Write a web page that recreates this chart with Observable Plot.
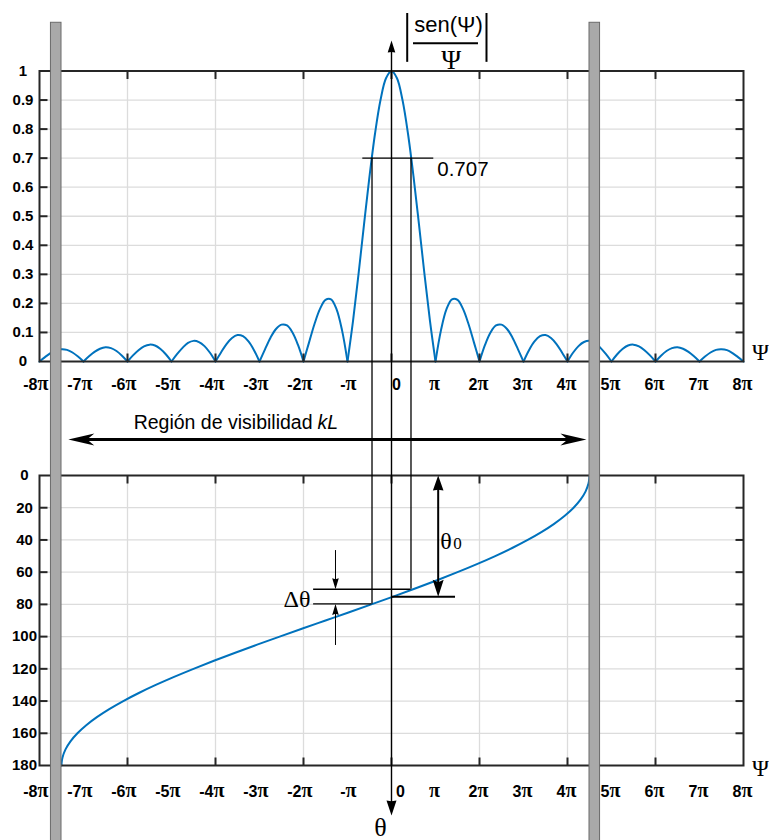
<!DOCTYPE html>
<html lang="es">
<head>
<meta charset="utf-8">
<title>Región de visibilidad</title>
<script src="https://cdn.jsdelivr.net/npm/d3@7"></script>
<script src="https://cdn.jsdelivr.net/npm/@observablehq/plot@0.6"></script>
<style>
  html, body { margin: 0; padding: 0; background: #ffffff; }
  #chart { position: relative; width: 769px; height: 840px; overflow: hidden; background: #fff; }
  #chart > svg { position: absolute; left: 0; top: 0; }
</style>
</head>
<body>
<div id="chart"></div>
<script>
// ---------------- DATA ----------------
// Top panel: |sen(Ψ)/Ψ| against Ψ (in multiples of π)
const psiTop = [
  -8,-7.875,-7.75,-7.625,-7.5,-7.375,-7.25,-7.125,
  -7,-6.875,-6.75,-6.625,-6.5,-6.375,-6.25,-6.125,
  -6,-5.875,-5.75,-5.625,-5.5,-5.375,-5.25,-5.125,
  -5,-4.875,-4.75,-4.625,-4.5,-4.375,-4.25,-4.125,
  -4,-3.875,-3.75,-3.625,-3.5,-3.375,-3.25,-3.125,
  -3,-2.875,-2.75,-2.625,-2.5,-2.375,-2.25,-2.125,
  -2,-1.875,-1.75,-1.625,-1.5,-1.375,-1.25,-1.125,
  -1,-0.875,-0.75,-0.625,-0.5,-0.375,-0.25,-0.125,
  0,
  0.125,0.25,0.375,0.5,0.625,0.75,0.875,1,
  1.125,1.25,1.375,1.5,1.625,1.75,1.875,2,
  2.125,2.25,2.375,2.5,2.625,2.75,2.875,3,
  3.125,3.25,3.375,3.5,3.625,3.75,3.875,4,
  4.125,4.25,4.375,4.5,4.625,4.75,4.875,5,
  5.125,5.25,5.375,5.5,5.625,5.75,5.875,6,
  6.125,6.25,6.375,6.5,6.625,6.75,6.875,7,
  7.125,7.25,7.375,7.5,7.625,7.75,7.875,8
];
const ampTop = [
  0,.015,.029,.039,.042,.040,.031,.017,
  0,.018,.033,.044,.049,.046,.036,.020,
  0,.021,.039,.052,.058,.055,.043,.024,
  0,.025,.047,.064,.071,.067,.053,.030,
  0,.031,.060,.081,.091,.087,.069,.039,
  0,.042,.082,.112,.127,.124,.100,.057,
  0,.065,.129,.181,.212,.214,.180,.108,
  0,.139,.300,.471,.637,.784,.900,.975,
  1,
  .975,.900,.784,.637,.471,.300,.139,0,
  .108,.180,.214,.212,.181,.129,.065,0,
  .057,.100,.124,.127,.112,.082,.042,0,
  .039,.069,.087,.091,.081,.060,.031,0,
  .030,.053,.067,.071,.064,.047,.025,0,
  .024,.043,.055,.058,.052,.039,.021,0,
  .020,.036,.046,.049,.044,.033,.018,0,
  .017,.031,.040,.042,.039,.029,.015,0
];
// Bottom panel: θ (degrees) against Ψ (in multiples of π)
const thetaDeg = [0,2,5,10,15,20,25,30,35,40,45,50,55,60,65,70,75,80,85,90,
  95,100,105,110,115,120,125,130,135,140,145,150,155,160,165,170,175,178,180];
const psiBottom = [4.5,4.496,4.477,4.409,4.296,4.138,3.938,3.696,3.415,3.096,2.743,2.357,1.941,1.5,1.036,0.552,0.053,-0.458,-0.977,-1.5,
  -2.023,-2.542,-3.053,-3.552,-4.036,-4.5,-4.941,-5.357,-5.743,-6.096,-6.415,-6.696,-6.938,-7.138,-7.296,-7.409,-7.477,-7.496,-7.5];

// Axes
const piMultiples = [-8,-7,-6,-5,-4,-3,-2,-1,0,1,2,3,4,5,6,7,8];
const gridPsi = [-6,-4,-2,0,2,4,6];
const ampTicks = [0,0.1,0.2,0.3,0.4,0.5,0.6,0.7,0.8,0.9,1];
const ampTickLabels = ["0","0.1","0.2","0.3","0.4","0.5","0.6","0.7","0.8","0.9","1"];
const thetaTicks = [0,20,40,60,80,100,120,140,160,180];
const thetaTickLabels = ["0","20","40","60","80","100","120","140","160","180"];

// Annotations
const visibility = [-7.5, 4.5];          // Ψ limits of the visible region
const halfPowerLabel = "0.707";
const halfPowerLevel = 0.7;
const halfPowerPsi = [-0.443, 0.443];
const halfPowerTheta = [79.7, 70.6];
const theta0 = 75.3;

// ---------------- LAYOUT ----------------
const W = 769, H = 840;
const frameLeft = 39, frameRight = 743;
const topFrame = [70.5, 361];
const botFrame = [475, 765];
const xDomain = [-8, 8];

const yTopS = d3.scaleLinear([0, 1], [topFrame[1], topFrame[0]]);
const yBotS = d3.scaleLinear([0, 180], [botFrame[0], botFrame[1]]);
const toTheta = v => yBotS.invert(yTopS(v));   // top-panel value -> bottom-panel units

const ann = {
  barWidth: 0.24, barTopAmp: 1.166, barBottomTheta: 250,
  axisTopAmp: 1.105, axisBottomTheta: 211,
  halfLine: [-0.652, 0.961], halfLabelPsi: 1.04, halfLabelAmp: 0.64,
  regionY: -0.2685, regionTips: [-7.345, 4.43], regionTextPsi: -1.795, regionTextAmp: -0.234,
  titlePsi: 1.295, titleAmp: 1.1336, fracBar: [0.5, 1.977], fracAmp: 1.0957,
  absPsi: [0.357, 2.159], absAmp: [1.0298, 1.198], denomPsi: 1.359, denomAmp: 1.0086,
  dThetaLeft: -1.77, dThetaArrowPsi: -1.273, dThetaFrom: [46.6, 105.5],
  dThetaTextPsi: -1.84, dThetaTextTheta: 81.5,
  theta0Line: [0, 1.455], theta0ArrowPsi: 1.061, theta0TextPsi: 1.11, theta0TextTheta: 45.5
};

const sans = "'Liberation Sans', Arial, Helvetica, sans-serif";
const serif = "'Liberation Serif', 'Times New Roman', Times, serif";
const ink = "#262626";
const gridC = "#dcdcdc";
const blue = "#0072BD";

// custom symbols
function tickSym(dx, dy) { return {draw(ctx) { ctx.moveTo(0, 0); ctx.lineTo(dx, dy); }}; }
function head(angle, L, hw, notch = 0.85) {
  const a = angle * Math.PI / 180, c = Math.cos(a), s = Math.sin(a);
  const pts = [[0,0],[-L,-hw],[-L*notch,0],[-L,hw]].map(([x,y]) => [x*c - y*s, x*s + y*c]);
  return {draw(ctx) { ctx.moveTo(pts[0][0], pts[0][1]); for (let i = 1; i < pts.length; i++) ctx.lineTo(pts[i][0], pts[i][1]); ctx.closePath(); }};
}
const RIGHT = 0, DOWN = 90, LEFT = 180, UP = -90;

// lobes of the sinc curve, split at its zeros
const topRows = psiTop.map((psi, i) => ({psi, amp: ampTop[i]}));
const zeros = topRows.filter(r => r.amp === 0).map(r => r.psi);
const lobes = [];
for (let k = 0; k < zeros.length - 1; k++) {
  topRows.filter(r => r.psi >= zeros[k] && r.psi <= zeros[k+1]).forEach(r => lobes.push({...r, lobe: k}));
}
const bottomRows = thetaDeg.map((theta, i) => ({theta, psi: psiBottom[i]}));
const xLabelRows = piMultiples.map(n => ({n, prefix: n === 1 ? "" : n === -1 ? "-" : String(n), pi: "π"}));

function frameAndAxes(o) {
  const rowsY = o.ticks.map((v, i) => ({v, label: o.labels[i]}));
  const inner = o.ticks.filter(v => v !== o.yTop && v !== o.yBottom);
  const tk = {fill: "none", stroke: ink, strokeWidth: 2};
  const lab = {fontFamily: sans, fontWeight: "bold", fontSize: 16, fill: "black", lineAnchor: "bottom"};
  return [
    Plot.frame({stroke: ink, strokeWidth: 2}),
    Plot.dot(inner, {x: () => -8, y: d => d, symbol: tickSym(8, 0), ...tk}),
    Plot.dot(inner, {x: () => 8, y: d => d, symbol: tickSym(-8, 0), ...tk}),
    Plot.dot(gridPsi, {x: d => d, y: () => o.yTop, symbol: tickSym(0, 8), ...tk}),
    Plot.dot(gridPsi, {x: d => d, y: () => o.yBottom, symbol: tickSym(0, -8), ...tk}),
    Plot.text(rowsY, {x: () => -8, y: "v", text: "label", dx: o.yLabelDx, textAnchor: "middle",
      fontFamily: sans, fontWeight: "bold", fontSize: 15, fill: "black"}),
    Plot.text(xLabelRows.filter(r => r.n !== 0 && r.prefix), {x: "n", y: () => o.yBottom, text: "prefix",
      textAnchor: "end", dx: -2, dy: o.labelDy, ...lab}),
    Plot.text(xLabelRows.filter(r => r.n !== 0 && r.prefix), {x: "n", y: () => o.yBottom, text: "pi",
      textAnchor: "start", dx: -2, dy: o.labelDy, ...lab, fontFamily: serif, fontSize: 20}),
    Plot.text(xLabelRows.filter(r => r.n === 1), {x: "n", y: () => o.yBottom, text: "pi",
      textAnchor: "middle", dx: -1, dy: o.labelDy, ...lab, fontFamily: serif, fontSize: 20}),
    Plot.text(xLabelRows.filter(r => r.n === 0), {x: "n", y: () => o.yBottom, text: d => String(d.n),
      textAnchor: "middle", dx: o.zeroDx, dy: o.labelDy, ...lab}),
    Plot.text(["Ψ"], {x: () => 8, y: () => o.yBottom, text: d => d, dx: 17, dy: o.psiDy,
      textAnchor: "middle", lineAnchor: "bottom", fontFamily: serif, fontSize: 23, fill: "black"})
  ];
}

const base = {
  width: W, height: H,
  marginLeft: frameLeft, marginRight: W - frameRight,
  style: {background: "transparent", overflow: "visible"},
  x: {domain: xDomain, range: [frameLeft, frameRight], axis: null}
};

// ---------------- TOP PANEL ----------------
const topPlot = Plot.plot({
  ...base,
  marginTop: topFrame[0], marginBottom: H - topFrame[1],
  y: {domain: [0, 1], range: [topFrame[1], topFrame[0]], axis: null},
  marks: [
    Plot.ruleY(ampTicks.filter(v => v > 0 && v < 1), {stroke: gridC, strokeWidth: 1.3}),
    Plot.ruleX(gridPsi, {stroke: gridC, strokeWidth: 1.3}),
    Plot.line(lobes, {x: "psi", y: "amp", z: "lobe", curve: "catmull-rom", stroke: blue, strokeWidth: 2}),
    ...frameAndAxes({ticks: ampTicks, labels: ampTickLabels, yTop: 1, yBottom: 0, yLabelDx: -16.5, labelDy: 28, zeroDx: 5, psiDy: -2}),
    // 0.707 level
    Plot.ruleY([halfPowerLevel], {x1: ann.halfLine[0], x2: ann.halfLine[1], stroke: "black", strokeWidth: 1.3}),
    Plot.text([halfPowerLabel], {x: () => ann.halfLabelPsi, y: () => ann.halfLabelAmp, text: d => d,
      textAnchor: "start", lineAnchor: "bottom", fontFamily: sans, fontSize: 20.5, fill: "black"}),
    // title |sen(Ψ)/Ψ|
    Plot.text(["sen(Ψ)"], {x: () => ann.titlePsi, y: () => ann.titleAmp, text: d => d,
      textAnchor: "middle", lineAnchor: "bottom", fontFamily: sans, fontSize: 22, fill: "black"}),
    Plot.ruleY([ann.fracAmp], {x1: ann.fracBar[0], x2: ann.fracBar[1], stroke: "black", strokeWidth: 2}),
    Plot.ruleX(ann.absPsi, {y1: ann.absAmp[0], y2: ann.absAmp[1], stroke: "black", strokeWidth: 2}),
    Plot.text(["Ψ"], {x: () => ann.denomPsi, y: () => ann.denomAmp, text: d => d,
      textAnchor: "middle", lineAnchor: "bottom", fontFamily: serif, fontSize: 27, fill: "black"}),
    // visible region arrow
    Plot.ruleY([ann.regionY], {x1: ann.regionTips[0], x2: ann.regionTips[1], stroke: "black", strokeWidth: 3, insetLeft: 10, insetRight: 10}),
    Plot.dot([ann.regionTips[0]], {x: d => d, y: () => ann.regionY, symbol: head(LEFT, 26, 6, 0.72), fill: "black", stroke: "none"}),
    Plot.dot([ann.regionTips[1]], {x: d => d, y: () => ann.regionY, symbol: head(RIGHT, 26, 6, 0.72), fill: "black", stroke: "none"}),
    Plot.text(["Región de visibilidad"], {x: () => ann.regionTextPsi, y: () => ann.regionTextAmp, text: d => d,
      textAnchor: "end", lineAnchor: "bottom", fontFamily: sans, fontSize: 19.5, fill: "black"}),
    Plot.text(["kL"], {x: () => ann.regionTextPsi, y: () => ann.regionTextAmp, text: d => d, dx: 5,
      textAnchor: "start", lineAnchor: "bottom", fontFamily: sans, fontStyle: "italic", fontSize: 19.5, fill: "black"})
  ]
});

// ---------------- BOTTOM PANEL ----------------
const halfRows = halfPowerPsi.map((psi, i) => ({psi, theta: halfPowerTheta[i]}));
const bars = [
  {x1: visibility[0] - ann.barWidth, x2: visibility[0]},
  {x1: visibility[1], x2: visibility[1] + ann.barWidth}
];
const axisTopTheta = toTheta(ann.axisTopAmp);
const halfTopTheta = toTheta(halfPowerLevel);

const botPlot = Plot.plot({
  ...base,
  marginTop: botFrame[0], marginBottom: H - botFrame[1],
  y: {domain: [0, 180], range: [botFrame[0], botFrame[1]], axis: null},
  marks: [
    Plot.ruleY(thetaTicks.filter(v => v > 0 && v < 180), {stroke: gridC, strokeWidth: 1.3}),
    Plot.ruleX(gridPsi, {stroke: gridC, strokeWidth: 1.3}),
    Plot.line(bottomRows, {x: "psi", y: "theta", curve: "catmull-rom", stroke: blue, strokeWidth: 2}),
    ...frameAndAxes({ticks: thetaTicks, labels: thetaTickLabels, yTop: 0, yBottom: 180, yLabelDx: -15, labelDy: 31, zeroDx: 9, psiDy: 10}),
    // Δθ construction
    Plot.ruleY([halfPowerTheta[1]], {x1: ann.dThetaLeft, x2: halfPowerPsi[1], stroke: "black", strokeWidth: 1.3}),
    Plot.ruleY([halfPowerTheta[0]], {x1: ann.dThetaLeft, x2: halfPowerPsi[0], stroke: "black", strokeWidth: 1.3}),
    Plot.ruleX([ann.dThetaArrowPsi], {y1: ann.dThetaFrom[0], y2: halfPowerTheta[1], stroke: "black", strokeWidth: 1, insetBottom: 4}),
    Plot.ruleX([ann.dThetaArrowPsi], {y1: halfPowerTheta[0], y2: ann.dThetaFrom[1], stroke: "black", strokeWidth: 1, insetTop: 4}),
    Plot.dot([halfPowerTheta[1]], {x: () => ann.dThetaArrowPsi, y: d => d, symbol: head(DOWN, 11, 3.3, 0.9), fill: "black", stroke: "none"}),
    Plot.dot([halfPowerTheta[0]], {x: () => ann.dThetaArrowPsi, y: d => d, symbol: head(UP, 11, 3.3, 0.9), fill: "black", stroke: "none"}),
    Plot.text(["Δθ"], {x: () => ann.dThetaTextPsi, y: () => ann.dThetaTextTheta, text: d => d,
      textAnchor: "end", lineAnchor: "bottom", fontFamily: serif, fontSize: 24, fill: "black"}),
    // θ0 construction
    Plot.ruleY([theta0], {x1: ann.theta0Line[0], x2: ann.theta0Line[1], stroke: "black", strokeWidth: 2}),
    Plot.ruleX([ann.theta0ArrowPsi], {y1: 0, y2: theta0, stroke: "black", strokeWidth: 2, insetTop: 6, insetBottom: 6}),
    Plot.dot([0], {x: () => ann.theta0ArrowPsi, y: d => d, symbol: head(UP, 15, 5.3, 0.95), fill: "black", stroke: "none"}),
    Plot.dot([theta0], {x: () => ann.theta0ArrowPsi, y: d => d, symbol: head(DOWN, 17, 5.5, 0.85), fill: "black", stroke: "none"}),
    Plot.text(["θ"], {x: () => ann.theta0TextPsi, y: () => ann.theta0TextTheta, text: d => d,
      textAnchor: "start", lineAnchor: "bottom", fontFamily: serif, fontSize: 24, fill: "black"}),
    Plot.text(["0"], {x: () => ann.theta0TextPsi, y: () => ann.theta0TextTheta, text: d => d, dx: 13,
      textAnchor: "start", lineAnchor: "bottom", fontFamily: serif, fontSize: 17, fill: "black"}),
    // θ label at the bottom of the vertical axis
    Plot.text(["θ"], {x: () => 0, y: () => 180, text: d => d, dx: -11, dy: 70,
      textAnchor: "middle", lineAnchor: "bottom", fontFamily: serif, fontSize: 26, fill: "black"}),
    // lines crossing both panels
    Plot.ruleX([0], {y1: axisTopTheta, y2: ann.axisBottomTheta, stroke: "black", strokeWidth: 1.4, insetTop: 5, insetBottom: 6}),
    Plot.dot([axisTopTheta], {x: () => 0, y: d => d, symbol: head(UP, 12, 3.8, 0.95), fill: "black", stroke: "none"}),
    Plot.dot([ann.axisBottomTheta], {x: () => 0, y: d => d, symbol: head(DOWN, 15, 5, 0.95), fill: "black", stroke: "none"}),
    Plot.ruleX(halfRows, {x: "psi", y1: () => halfTopTheta, y2: "theta", stroke: "black", strokeWidth: 1.3}),
    // grey limits of the visible region
    Plot.rect(bars, {x1: "x1", x2: "x2", y1: () => toTheta(ann.barTopAmp), y2: () => ann.barBottomTheta,
      fill: "#a9a9a9", stroke: "#6a6a6a", strokeWidth: 1})
  ]
});

const host = document.getElementById("chart");
host.appendChild(topPlot);
host.appendChild(botPlot);
</script>
</body>
</html>
